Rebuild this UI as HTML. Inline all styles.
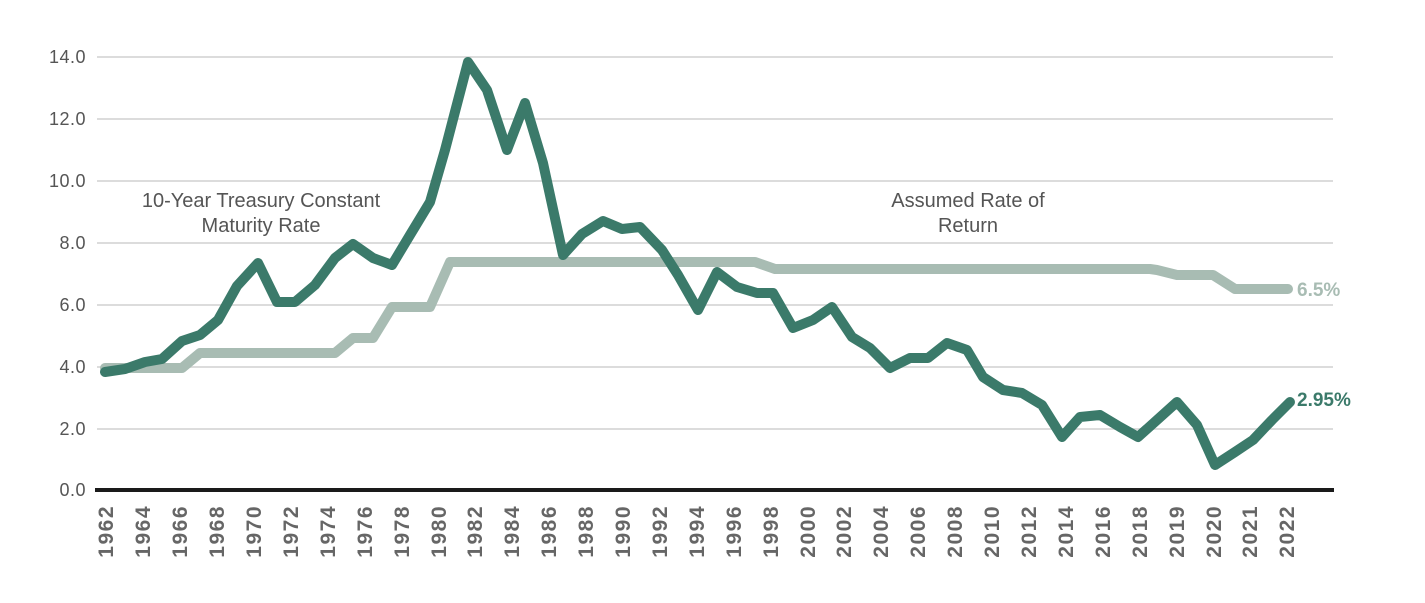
<!DOCTYPE html>
<html><head><meta charset="utf-8"><style>
body{margin:0;background:#fff;}
svg{display:block;font-family:"Liberation Sans",sans-serif;}
</style></head><body>
<svg width="1425" height="603" viewBox="0 0 1425 603">
<g stroke="#dcdcdc" stroke-width="2">
<line x1="97" y1="57" x2="1333" y2="57"/>
<line x1="97" y1="119" x2="1333" y2="119"/>
<line x1="97" y1="181" x2="1333" y2="181"/>
<line x1="97" y1="243" x2="1333" y2="243"/>
<line x1="97" y1="305" x2="1333" y2="305"/>
<line x1="97" y1="367" x2="1333" y2="367"/>
<line x1="97" y1="429" x2="1333" y2="429"/>
</g>
<line x1="95" y1="490" x2="1334" y2="490" stroke="#1a1a1a" stroke-width="4"/>
<g fill="#555" font-size="18" text-anchor="end" letter-spacing="0.5">
<text x="86" y="63">14.0</text>
<text x="86" y="125">12.0</text>
<text x="86" y="187">10.0</text>
<text x="86" y="249">8.0</text>
<text x="86" y="311">6.0</text>
<text x="86" y="373">4.0</text>
<text x="86" y="435">2.0</text>
<text x="86" y="496">0.0</text>
</g>
<polyline fill="none" stroke="#a8bcb3" stroke-width="10" stroke-linejoin="round" stroke-linecap="round"
points="105,368 182,368 200,353 335,353 353,338 373,338 392,307 430,307 450,262 755,262 775,269 1150,269 1157,270 1177,275 1213,275 1235,289 1288,289"/>
<polyline fill="none" stroke="#3b7a6a" stroke-width="10" stroke-linejoin="round" stroke-linecap="round"
points="105,372 125,369 145,362 162,359 182,341 200,335 218,320 237,286 258,263 277,302 295,302 315,285 335,258 353,244 373,258 392,265 410,235 430,202 445,150 468,62 487,90 507,150 525,103 543,163 563,255 582,234 603,221 622,229 640,227 662,250 678,275 698,310 717,272 737,287 757,293 773,293 793,328 813,320 832,307 852,337 870,348 890,368 910,358 928,358 947,343 967,350 983,377 1003,390 1022,393 1042,405 1062,437 1080,417 1100,415 1120,427 1138,437 1157,420 1177,402 1197,425 1215,465 1235,452 1253,440 1272,420 1290,402"/>
<g fill="#555" font-size="20" text-anchor="middle">
<text x="261" y="207">10-Year Treasury Constant</text>
<text x="261" y="232">Maturity Rate</text>
<text x="968" y="207">Assumed Rate of</text>
<text x="968" y="232">Return</text>
</g>
<text x="1297" y="296" fill="#a8bcb3" font-size="19" font-weight="bold">6.5%</text>
<text x="1297" y="406" fill="#3b7a6a" font-size="19" font-weight="bold">2.95%</text>
<g fill="#666" font-size="21" font-weight="bold" text-anchor="end" letter-spacing="1.5">
<text transform="translate(113,505) rotate(-90)">1962</text>
<text transform="translate(150,505) rotate(-90)">1964</text>
<text transform="translate(187,505) rotate(-90)">1966</text>
<text transform="translate(224,505) rotate(-90)">1968</text>
<text transform="translate(261,505) rotate(-90)">1970</text>
<text transform="translate(298,505) rotate(-90)">1972</text>
<text transform="translate(335,505) rotate(-90)">1974</text>
<text transform="translate(372,505) rotate(-90)">1976</text>
<text transform="translate(409,505) rotate(-90)">1978</text>
<text transform="translate(446,505) rotate(-90)">1980</text>
<text transform="translate(482,505) rotate(-90)">1982</text>
<text transform="translate(519,505) rotate(-90)">1984</text>
<text transform="translate(556,505) rotate(-90)">1986</text>
<text transform="translate(593,505) rotate(-90)">1988</text>
<text transform="translate(630,505) rotate(-90)">1990</text>
<text transform="translate(667,505) rotate(-90)">1992</text>
<text transform="translate(704,505) rotate(-90)">1994</text>
<text transform="translate(741,505) rotate(-90)">1996</text>
<text transform="translate(778,505) rotate(-90)">1998</text>
<text transform="translate(815,505) rotate(-90)">2000</text>
<text transform="translate(851,505) rotate(-90)">2002</text>
<text transform="translate(888,505) rotate(-90)">2004</text>
<text transform="translate(925,505) rotate(-90)">2006</text>
<text transform="translate(962,505) rotate(-90)">2008</text>
<text transform="translate(999,505) rotate(-90)">2010</text>
<text transform="translate(1036,505) rotate(-90)">2012</text>
<text transform="translate(1073,505) rotate(-90)">2014</text>
<text transform="translate(1110,505) rotate(-90)">2016</text>
<text transform="translate(1147,505) rotate(-90)">2018</text>
<text transform="translate(1184,505) rotate(-90)">2019</text>
<text transform="translate(1221,505) rotate(-90)">2020</text>
<text transform="translate(1257,505) rotate(-90)">2021</text>
<text transform="translate(1294,505) rotate(-90)">2022</text>
</g>
</svg>
</body></html>
